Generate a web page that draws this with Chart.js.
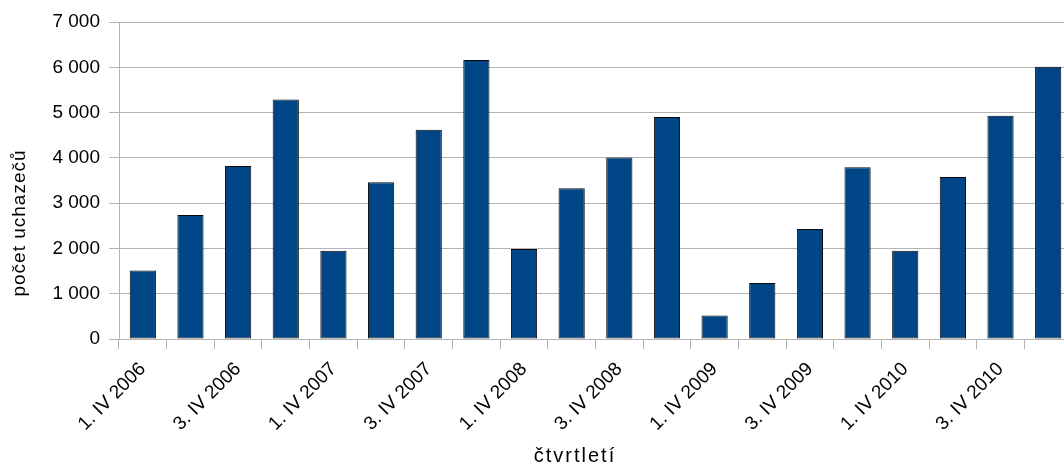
<!DOCTYPE html>
<html lang="cs">
<head>
<meta charset="utf-8">
<title>Počet uchazečů po čtvrtletích</title>
<script src="https://cdn.jsdelivr.net/npm/chart.js@4/dist/chart.umd.min.js"></script>
<style>
  html, body { margin: 0; padding: 0; background: #fff; overflow: hidden; }
  #wrap { position: absolute; left: 0; top: 0; width: 1090px; height: 464px; }
</style>
</head>
<body>
<div id="wrap"><canvas id="chart" width="1090" height="464"></canvas></div>
<script>
// Quarters 2006–2010
const categories = [
  '1. IV 2006', '2. IV 2006', '3. IV 2006', '4. IV 2006',
  '1. IV 2007', '2. IV 2007', '3. IV 2007', '4. IV 2007',
  '1. IV 2008', '2. IV 2008', '3. IV 2008', '4. IV 2008',
  '1. IV 2009', '2. IV 2009', '3. IV 2009', '4. IV 2009',
  '1. IV 2010', '2. IV 2010', '3. IV 2010', '4. IV 2010'
];

// Number of applicants per quarter
const applicants = [
  1510, 2740, 3820, 5290,
  1950, 3460, 4620, 6160,
  1990, 3330, 4010, 4900,
  520, 1235, 2430, 3790,
  1950, 3580, 4930, 6010
];

const yTicks = [0, 1000, 2000, 3000, 4000, 5000, 6000, 7000];
const yTitle = 'počet uchazečů';
const xTitle = 'čtvrtletí';

const FONT = '"Liberation Sans", Arial, sans-serif';
const GRID = '#b3b3b3';

function fmt(v) {
  return String(v).replace(/\B(?=(\d{3})+(?!\d))/g, ' ');
}

// Axis titles drawn on the canvas
const axisTitles = {
  id: 'axisTitles',
  afterDraw(chart) {
    const ctx = chart.ctx;
    ctx.save();
    ctx.fillStyle = '#000';
    ctx.font = '19px ' + FONT;
    ctx.letterSpacing = '1px';
    ctx.textAlign = 'center';
    ctx.textBaseline = 'middle';
    ctx.translate(20, 223);
    ctx.rotate(-Math.PI / 2);
    ctx.fillText(yTitle, 0, 0);
    ctx.restore();

    ctx.save();
    ctx.fillStyle = '#000';
    ctx.font = '20px ' + FONT;
    ctx.letterSpacing = '2px';
    ctx.textAlign = 'center';
    ctx.textBaseline = 'alphabetic';
    ctx.fillText(xTitle, 575, 462);
    ctx.restore();
  }
};

new Chart(document.getElementById('chart'), {
  type: 'bar',
  data: {
    labels: categories,
    datasets: [{
      data: applicants,
      backgroundColor: '#004586',
      borderColor: '#0a0a0a',
      borderWidth: 1,
      borderSkipped: false,
      barPercentage: 0.55,
      categoryPercentage: 1
    }]
  },
  options: {
    responsive: false,
    animation: false,
    devicePixelRatio: 1,
    layout: { padding: { top: 22, right: 18, left: 0, bottom: 0 } },
    plugins: {
      legend: { display: false },
      tooltip: { enabled: false }
    },
    scales: {
      x: {
        offset: true,
        afterFit(scale) { scale.height = 125; },
        grid: {
          display: true,
          offset: true,
          drawOnChartArea: false,
          drawTicks: true,
          tickLength: 10,
          color: GRID,
          lineWidth: 1
        },
        border: { display: true, color: GRID, width: 1 },
        ticks: {
          autoSkip: false,
          minRotation: 45,
          maxRotation: 45,
          padding: 9,
          color: '#000',
          font: { family: FONT, size: 19 },
          callback(value, index) {
            return index % 2 === 0 ? categories[index] : '';
          }
        }
      },
      y: {
        min: yTicks[0],
        max: yTicks[yTicks.length - 1],
        afterFit(scale) { scale.width = 119; },
        afterBuildTicks(scale) {
          scale.ticks = yTicks.map(v => ({ value: v }));
        },
        grid: {
          color: GRID,
          lineWidth: 1,
          drawTicks: true,
          tickLength: 10
        },
        border: { display: true, color: GRID, width: 1 },
        ticks: {
          padding: 9,
          color: '#000',
          font: { family: FONT, size: 19 },
          callback(value) { return fmt(value); }
        }
      }
    }
  },
  plugins: [axisTitles]
});
</script>
</body>
</html>
